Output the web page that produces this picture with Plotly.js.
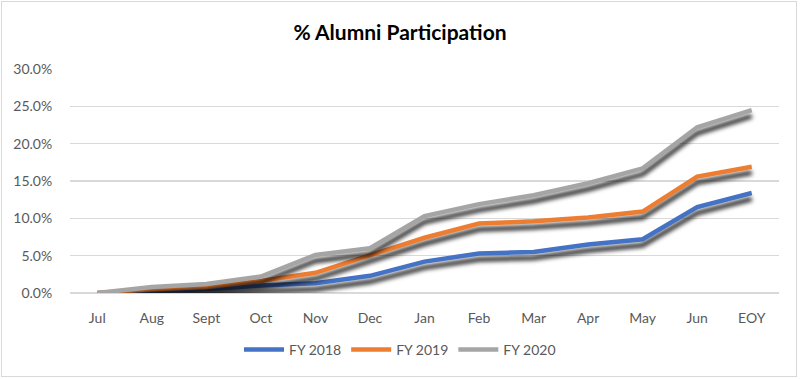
<!DOCTYPE html>
<html><head><meta charset="utf-8">
<script src="https://cdn.plot.ly/plotly-3.0.1.min.js"></script>
<style>
html,body{margin:0;padding:0;background:#fff;}
#wrap{position:relative;width:800px;height:379px;}
#chart{width:800px;height:379px;}
#frame{position:absolute;left:1px;top:1px;width:794px;height:374px;border:1px solid #d9d9d9;pointer-events:none;}
.scatterlayer .trace path.js-line{filter:drop-shadow(0px 6px 2px rgba(0,0,0,0.85));}
</style></head>
<body>
<div id="wrap"><div id="chart"></div><div id="frame"></div></div>
<script>
const months = ["Jul","Aug","Sept","Oct","Nov","Dec","Jan","Feb","Mar","Apr","May","Jun","EOY"];
const fy2018 = [0.0,0.3,0.5,1.0,1.3,2.3,4.2,5.3,5.5,6.5,7.2,11.5,13.4];
const fy2019 = [0.0,0.5,0.8,1.6,2.7,5.1,7.4,9.3,9.6,10.1,10.9,15.6,16.9];
const fy2020 = [0.0,0.8,1.2,2.2,5.1,6.0,10.3,11.9,13.1,14.7,16.7,22.2,24.5];
const seriesNames = ["FY 2018","FY 2019","FY 2020"];
const colors = ["#4472C4","#ED7D31","#A5A5A5"];
const yTicks = [0,5,10,15,20,25,30];

const data = [fy2018, fy2019, fy2020].map((vals,i)=>({
  x: months, y: vals, type:'scatter', mode:'lines', name: seriesNames[i],
  line:{color:colors[i], width:4.5}
}));

const layout = {
  width:800, height:379,
  font:{family:'Lato, "Open Sans", sans-serif', color:'#595959', size:14},
  paper_bgcolor:'#fff', plot_bgcolor:'#fff',
  margin:{l:70, r:21, t:69, b:86},
  title:{text:'<b>% Alumni Participation</b>', x:0.5, xanchor:'center', y:0.915, yanchor:'middle', font:{size:21, color:'#000'}},
  showlegend:true,
  legend:{orientation:'h', x:0.5, xref:'container', xanchor:'center', y:0.077, yref:'container', yanchor:'middle', font:{size:14, color:'#595959'}, itemwidth:40, traceorder:'normal'},
  xaxis:{type:'category', range:[-0.5,12.5], showgrid:false, zeroline:false, showline:false, ticks:'outside', ticklen:12, tickcolor:'rgba(0,0,0,0)', tickfont:{size:14, color:'#595959'}},
  yaxis:{range:[0,30], tickvals:yTicks, ticktext:yTicks.map(v=>v.toFixed(1)+'%'), showgrid:true, gridcolor:'#D9D9D9', gridwidth:1.5, zeroline:true, zerolinecolor:'#D9D9D9', zerolinewidth:1.5, showline:false, ticks:'outside', ticklen:14, tickcolor:'rgba(0,0,0,0)', tickfont:{size:14, color:'#595959'}}
};
Plotly.newPlot('chart', data, layout, {displayModeBar:false, staticPlot:true});
</script>
</body></html>
